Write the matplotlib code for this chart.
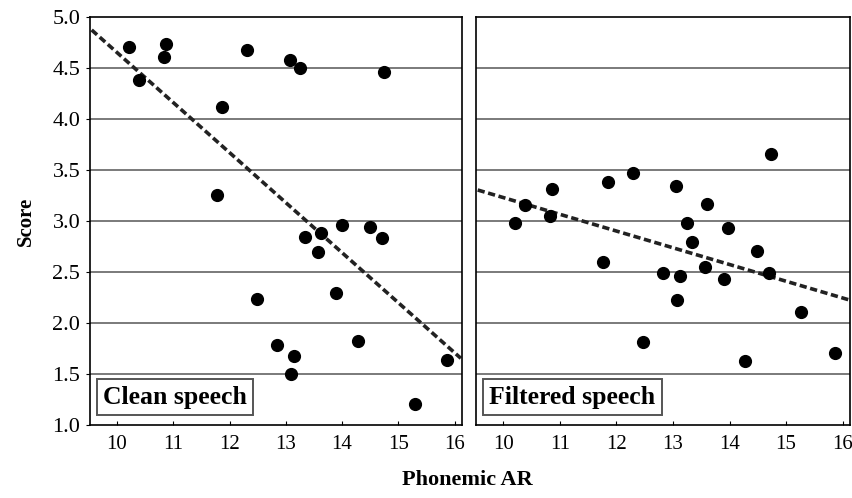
import numpy as np
import matplotlib
matplotlib.use("Agg")
import matplotlib.pyplot as plt

plt.rcParams['font.family'] = ['Liberation Serif', 'DejaVu Serif']

# phonemic articulation rate per speaker and the two score sets
x_clean = [10.22, 10.40, 10.83, 10.87, 11.77, 11.87, 12.31, 12.49, 12.84, 13.07,
           13.09, 13.14, 13.26, 13.34, 13.58, 13.62, 13.90, 14.00, 14.29, 14.50,
           14.71, 14.75, 15.29, 15.87]
y_clean = [4.71, 4.38, 4.61, 4.74, 3.26, 4.12, 4.68, 2.24, 1.78, 4.58,
           1.50, 1.68, 4.50, 2.84, 2.70, 2.88, 2.29, 2.96, 1.82, 2.94,
           2.83, 4.46, 1.21, 1.64]

x_filt = [10.21, 10.38, 10.82, 10.86, 11.76, 11.85, 12.30, 12.47, 12.82, 13.06,
          13.08, 13.12, 13.25, 13.33, 13.56, 13.60, 13.90, 13.98, 14.28, 14.49,
          14.70, 14.74, 15.26, 15.86]
y_filt = [2.98, 3.16, 3.05, 3.31, 2.60, 3.38, 3.47, 1.81, 2.49, 3.34,
          2.23, 2.46, 2.98, 2.79, 2.55, 3.17, 2.43, 2.93, 1.63, 2.71,
          2.49, 3.66, 2.11, 1.71]

panels = [("Clean speech", x_clean, y_clean), ("Filtered speech", x_filt, y_filt)]

xticks = [10, 11, 12, 13, 14, 15, 16]
yticks = [1.0, 1.5, 2.0, 2.5, 3.0, 3.5, 4.0, 4.5, 5.0]
xlim = (9.52, 16.13)

fig = plt.figure(figsize=(8.52, 4.98), dpi=100)
axes = [fig.add_axes([0.1056, 0.1466, 0.4366, 0.819]),
        fig.add_axes([0.5587, 0.1466, 0.439, 0.819])]

for i, (ax, (name, xs, ys)) in enumerate(zip(axes, panels)):
    ax.set_xlim(*xlim)
    ax.set_ylim(1.0, 5.0)
    for yv in yticks[1:-1]:
        ax.axhline(yv, color="#707070", lw=1.3, zorder=1)
    ax.scatter(xs, ys, s=72, color="black", zorder=3)

    # least-squares trend line
    b, a = np.polyfit(xs, ys, 1)
    lx = np.array([xlim[0] + 0.03, xlim[1] - 0.02])
    ax.plot(lx, a + b * lx, color="#222222", lw=2.6,
            linestyle=(0, (2.0, 1.0)), zorder=2)

    ax.text(0.035, 0.04, name, transform=ax.transAxes, fontsize=18.5,
            fontweight="bold", ha="left", va="bottom",
            bbox=dict(boxstyle="square,pad=0.25", fc="white", ec="#555555", lw=1.4))

    ax.set_xticks(xticks)
    ax.set_xticklabels([str(t) for t in xticks], fontsize=15)
    ax.tick_params(axis="x", direction="in", length=3, pad=7)
    ax.set_yticks(yticks)
    if i == 0:
        ax.set_yticklabels(["%.1f" % t for t in yticks], fontsize=16)
        ax.tick_params(axis="y", direction="out", length=3, pad=4)
        ax.set_ylabel("Score", fontsize=15, fontweight="bold", labelpad=12)
    else:
        ax.set_yticklabels([])
        ax.tick_params(axis="y", length=0)
    for sp in ax.spines.values():
        sp.set_linewidth(1.2)

fig.text(0.548, 0.036, "Phonemic AR", fontsize=16, fontweight="bold",
         ha="center", va="center")

fig.savefig("out.png", dpi=100)
